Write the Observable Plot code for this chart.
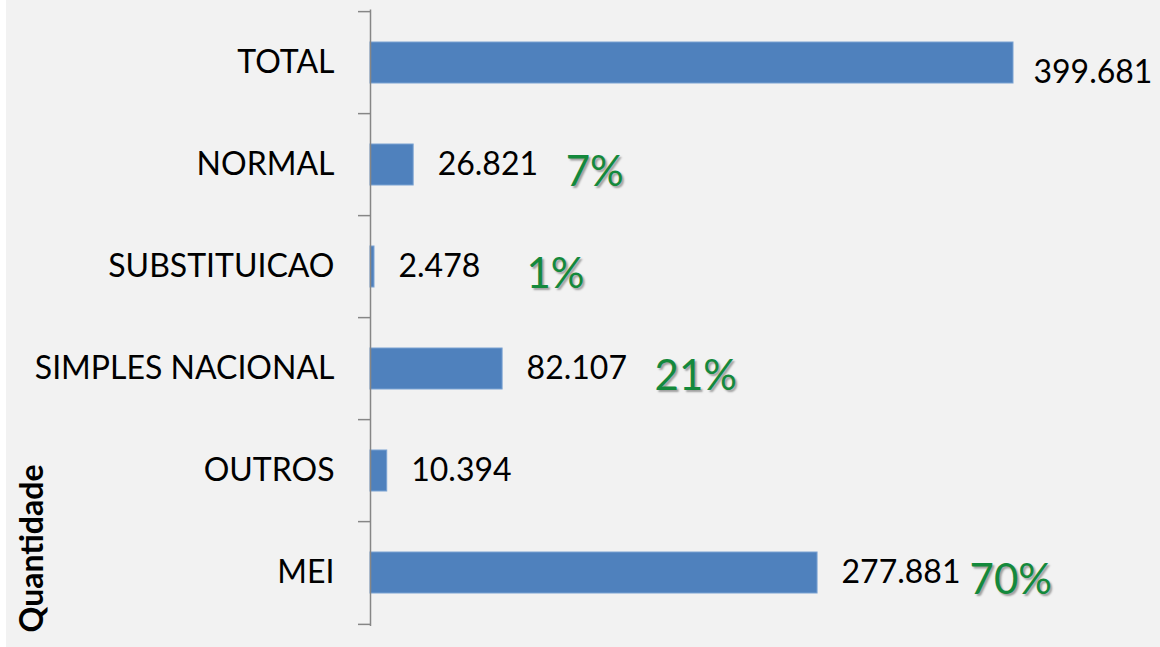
<!DOCTYPE html>
<html><head><meta charset="utf-8">
<script src="https://cdn.jsdelivr.net/npm/d3@7"></script>
<script src="https://cdn.jsdelivr.net/npm/@observablehq/plot@0.6"></script>
<style>
html,body{margin:0;padding:0;background:#fff;}
#chart{margin-left:6px;width:1154px;height:647px;background:#f2f2f2;overflow:hidden}
</style></head><body><div id="chart"></div>
<script>
const categories = ["TOTAL", "NORMAL", "SUBSTITUICAO", "SIMPLES NACIONAL", "OUTROS", "MEI"];
const values = [399681, 26821, 2478, 82107, 10394, 277881];
const percents = [null, 7, 1, 21, null, 70];
const axisTitle = "Quantidade";

const rows = categories.map((c, i) => ({category: c, value: values[i], pct: percents[i]}));
const br = d3.formatLocale({decimal: ",", thousands: ".", grouping: [3], currency: ["R$", ""]});
const fmt = br.format(",d");

const W = 1154, H = 647, mT = 9.5, mB = 21;
const step = (H - mT - mB) / categories.length;
const axisColor = "#868686";
const green = "#14893c";

const plot = Plot.plot({
  width: W, height: H,
  marginLeft: 364, marginRight: 147, marginTop: mT, marginBottom: mB,
  style: {background: "#f2f2f2", fontFamily: "Lato, sans-serif", color: "#000", overflow: "visible"},
  x: {domain: [0, d3.max(values)], axis: null},
  y: {domain: categories, paddingInner: 0.6, paddingOuter: 0.3, label: null, axis: null},
  marks: [
    Plot.barX(rows, {x: "value", y: "category", fill: "#4f81bd", stroke: "#7aa2d2", strokeWidth: 1}),
    Plot.ruleX([0], {stroke: axisColor, strokeWidth: 1.5}),
    Plot.axisY({tickSize: 12, tickFormat: () => "", dy: -step / 2, stroke: axisColor, strokeWidth: 1.5}),
    Plot.axisY({ticks: [categories[categories.length - 1]], tickSize: 12, tickFormat: () => "", dy: step / 2, stroke: axisColor, strokeWidth: 1.5}),
    Plot.axisY({tickSize: 0, tickPadding: 36, fontSize: 32, fill: "#000"}),
    Plot.text(rows.filter(r => r.category !== "TOTAL"), {x: "value", y: "category", text: d => fmt(d.value), textAnchor: "start", dx: 24, fontSize: 32, fill: "#000"}),
    Plot.text(rows.filter(r => r.category === "TOTAL"), {x: "value", y: "category", text: d => fmt(d.value), textAnchor: "start", dx: 20, dy: 10, fontSize: 32, fill: "#000"}),
    Plot.text(rows.filter(r => r.pct != null), {x: "value", y: "category", text: d => d.pct + "%", textAnchor: "start", dx: 152, dy: 8, fontSize: 42, fill: green}),
    Plot.text([axisTitle], {frameAnchor: "bottom-left", rotate: -90, textAnchor: "end", dx: -328, dy: -162, fontSize: 32, fontWeight: "bold", fill: "#000"})
  ]
});
d3.select(plot).selectAll(`g[fill='${green}'] text`).style("text-shadow", "2px 2px 2px rgba(0,0,0,0.35)");
document.getElementById("chart").appendChild(plot);
</script></body></html>
